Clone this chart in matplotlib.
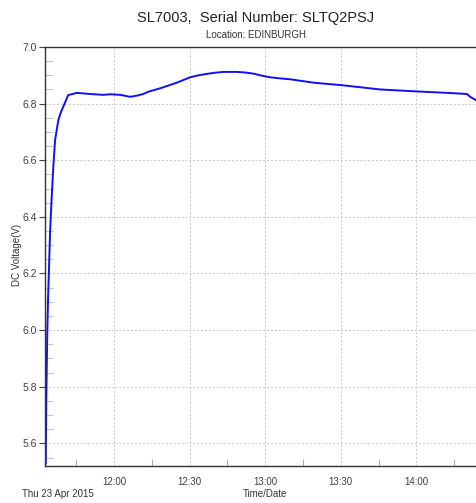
import matplotlib
matplotlib.use("Agg")
import matplotlib.pyplot as plt
import matplotlib.dates as mdates
import pandas as pd

plt.rcParams['font.family'] = ['Liberation Sans', 'DejaVu Sans']

# Minutes relative to 12:00 on 23 Apr 2015, and logged DC voltage
minutes = [-27.4, -27.1, -27.0, -26.9, -26.7, -26.5, -26.2, -25.8, -25.4, -24.8,
           -24.1, -23.4, -22.1, -21.2, -18.2, -14.8, -9.5, -4.3, -1.6, 2.5,
           6.4, 9.0, 11.6, 13.6, 18.3, 24.9, 30.2, 33.5, 36.8, 40.0,
           43.4, 48.7, 52.0, 55.3, 58.0, 62.0, 66.0, 69.9, 79.2, 90.5,
           105.7, 120.3, 132.2, 140.1, 141.4, 144.1]
voltage = [5.52, 5.529, 5.636, 5.752, 5.869, 5.989, 6.106, 6.222, 6.343, 6.459,
           6.577, 6.671, 6.742, 6.767, 6.830, 6.838, 6.834, 6.831, 6.833, 6.831,
           6.824, 6.828, 6.834, 6.842, 6.854, 6.874, 6.893, 6.900, 6.905, 6.909,
           6.912, 6.912, 6.910, 6.906, 6.900, 6.893, 6.889, 6.886, 6.874, 6.865,
           6.850, 6.843, 6.838, 6.834, 6.824, 6.810]

title = "SL7003,  Serial Number: SLTQ2PSJ"
subtitle = "Location: EDINBURGH"
y_label = "DC Voltage(V)"
x_label = "Time/Date"
date_label = "Thu 23 Apr 2015"

base = pd.Timestamp("2015-04-23 12:00")
times = [base + pd.Timedelta(minutes=m) for m in minutes]

fig = plt.figure(figsize=(4.77, 5.03), dpi=100)
ax = fig.add_axes([45/477, 37/503, 432/477, 419/503])

ax.plot(times, voltage, color='#1010f5', lw=1.4, solid_joinstyle='round')

ax.set_xlim(times[0], times[-1])
ax.set_ylim(5.52, 7.0)

ax.xaxis.set_major_locator(mdates.MinuteLocator(byminute=[0, 30]))
ax.xaxis.set_minor_locator(mdates.MinuteLocator(byminute=[15, 45]))
ax.xaxis.set_major_formatter(mdates.DateFormatter('%H:%M'))
ax.yaxis.set_major_locator(plt.MultipleLocator(0.2))
ax.yaxis.set_minor_locator(plt.MultipleLocator(0.05))
ax.yaxis.set_major_formatter(plt.FormatStrFormatter('%.1f'))

ax.grid(True, which='major', color='#c8c8c8', linestyle=(0, (2, 2)), lw=0.7)
ax.tick_params(axis='x', which='major', length=0, pad=8, labelsize=7, labelcolor='#404040')
ax.tick_params(axis='x', which='minor', direction='in', length=5, color='#b0b0b0', width=0.8)
ax.tick_params(axis='y', which='major', direction='out', length=4, color='#404040', width=0.8,
               labelsize=7.5, labelcolor='#404040', pad=2)
ax.tick_params(axis='y', which='minor', direction='in', length=6, color='#c8c8c8', width=0.8)

for side in ['left', 'bottom', 'top']:
    ax.spines[side].set_color('#333333')
    ax.spines[side].set_linewidth(1.0)
ax.spines['right'].set_visible(False)

fig.text(256/477, 1 - 18/503, title, ha='center', va='center', fontsize=10.5, color='#222222')
fig.text(256/477, 1 - 35/503, subtitle, ha='center', va='center', fontsize=7, color='#333333')
fig.text(265/477, 1 - 494/503, x_label, ha='center', va='center', fontsize=7, color='#333333')
fig.text(22/477, 1 - 494/503, date_label, ha='left', va='center', fontsize=7, color='#333333')
fig.text(17/477, 1 - 255/503, y_label, ha='center', va='center', rotation=90, fontsize=7, color='#333333')

fig.savefig("out.png", dpi=100)
